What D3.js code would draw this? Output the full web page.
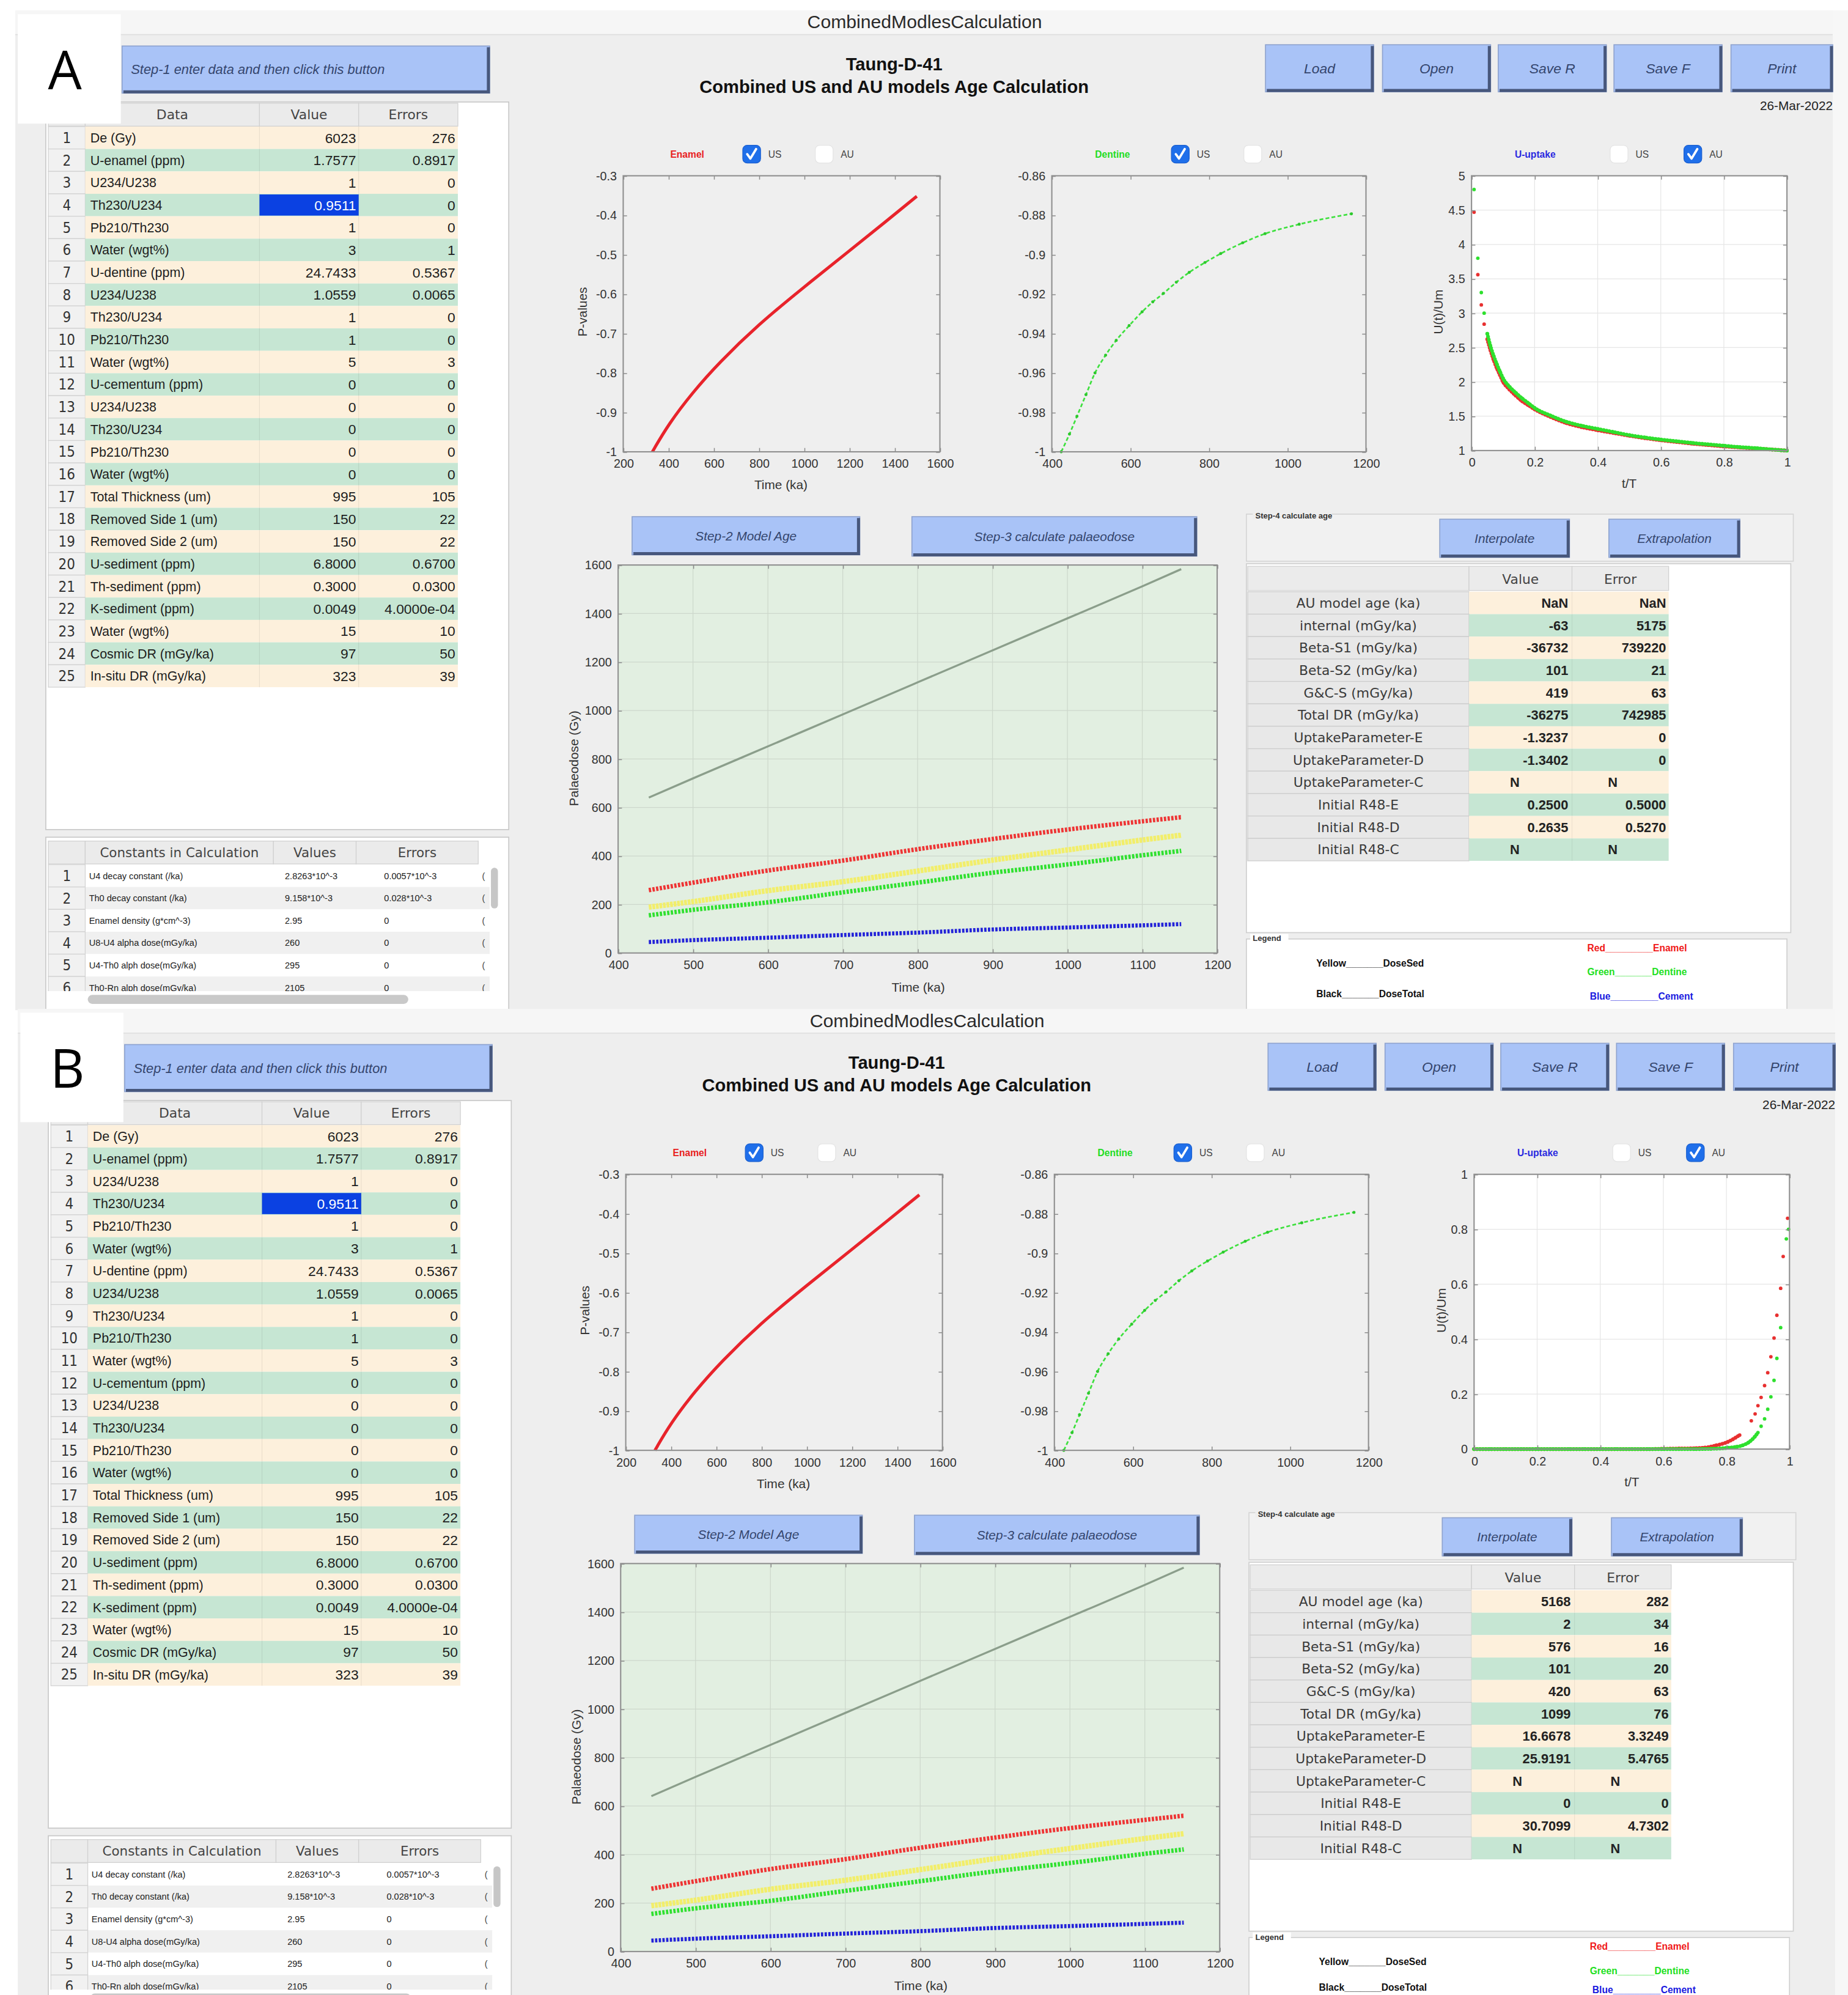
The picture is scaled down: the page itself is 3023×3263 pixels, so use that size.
<!DOCTYPE html>
<html>
<head>
<meta charset="utf-8">
<script src="https://cdn.jsdelivr.net/npm/d3@7"></script>
<style>
  body { margin: 0; background: #fff; }
  svg { display: block; font-family: "Liberation Sans", Arial, sans-serif; }
</style>
</head>
<body>
<script>
// ---- data ----
const inputLabels = ['De (Gy)', 'U-enamel (ppm)', 'U234/U238', 'Th230/U234', 'Pb210/Th230', 'Water (wgt%)',
  'U-dentine (ppm)', 'U234/U238', 'Th230/U234', 'Pb210/Th230', 'Water (wgt%)',
  'U-cementum (ppm)', 'U234/U238', 'Th230/U234', 'Pb210/Th230', 'Water (wgt%)',
  'Total Thickness (um)', 'Removed Side 1 (um)', 'Removed Side 2 (um)', 'U-sediment (ppm)',
  'Th-sediment (ppm)', 'K-sediment (ppm)', 'Water (wgt%)', 'Cosmic DR (mGy/ka)', 'In-situ DR (mGy/ka)'];
const inputValues = ['6023', '1.7577', '1', '0.9511', '1', '3', '24.7433', '1.0559', '1', '1', '5',
  '0', '0', '0', '0', '0', '995', '150', '150', '6.8000', '0.3000', '0.0049', '15', '97', '323'];
const inputErrors = ['276', '0.8917', '0', '0', '0', '1', '0.5367', '0.0065', '0', '0', '3',
  '0', '0', '0', '0', '0', '105', '22', '22', '0.6700', '0.0300', '4.0000e-04', '10', '50', '39'];

const constLabels = ['U4 decay constant  (/ka)', 'Th0 decay constant (/ka)', 'Enamel density (g*cm^-3)',
  'U8-U4 alpha dose(mGy/ka)', 'U4-Th0 alph dose(mGy/ka)', 'Th0-Rn alph dose(mGy/ka)'];
const constValues = ['2.8263*10^-3', '9.158*10^-3', '2.95', '260', '295', '2105'];
const constErrors = ['0.0057*10^-3', '0.028*10^-3', '0', '0', '0', '0'];

const resultLabels = ['AU model age (ka)', 'internal (mGy/ka)', 'Beta-S1 (mGy/ka)', 'Beta-S2 (mGy/ka)',
  'G&C-S (mGy/ka)', 'Total DR (mGy/ka)', 'UptakeParameter-E', 'UptakeParameter-D', 'UptakeParameter-C',
  'Initial R48-E', 'Initial R48-D', 'Initial R48-C'];
const resultValuesA = ['NaN', '-63', '-36732', '101', '419', '-36275', '-1.3237', '-1.3402', 'N', '0.2500', '0.2635', 'N'];
const resultErrorsA = ['NaN', '5175', '739220', '21', '63', '742985', '0', '0', 'N', '0.5000', '0.5270', 'N'];
const resultValuesB = ['5168', '2', '576', '101', '420', '1099', '16.6678', '25.9191', 'N', '0', '30.7099', 'N'];
const resultErrorsB = ['282', '34', '16', '20', '63', '76', '3.3249', '5.4765', 'N', '0', '4.7302', 'N'];

// enamel / dentine p-value curves
const enamelTime = [329, 400, 506, 622, 796, 993, 1201, 1363, 1498];
const enamelP = [-1, -0.93, -0.85, -0.775, -0.678, -0.585, -0.49, -0.415, -0.352];
const dentineTime = [424, 445, 464, 487, 510, 537, 564, 597, 630, 657, 684, 717, 750, 790, 830, 886, 943, 1030, 1163];
const dentineP = [-1, -0.991, -0.982, -0.971, -0.960, -0.951, -0.9435, -0.936, -0.929, -0.924, -0.9197,
  -0.914, -0.909, -0.904, -0.8995, -0.894, -0.8894, -0.8846, -0.8793];

// U-uptake, panel A
const uptakeTimeA = [0.008, 0.02, 0.031, 0.04, 0.05, 0.06, 0.07, 0.08, 0.09, 0.1, 0.12, 0.14, 0.16, 0.18, 0.2,
  0.25, 0.3, 0.35, 0.4, 0.45, 0.5, 0.55, 0.6, 0.65, 0.7, 0.75, 0.8, 0.85, 0.9, 0.95, 1];
const uptakeRedA = [4.47, 3.56, 3.12, 2.84, 2.62, 2.46, 2.32, 2.2, 2.1, 2.0, 1.89, 1.8, 1.72, 1.66, 1.6,
  1.49, 1.4, 1.34, 1.295, 1.255, 1.215, 1.18, 1.15, 1.125, 1.1, 1.08, 1.06, 1.045, 1.03, 1.015, 1.0];
const uptakeGreenA = [4.8, 3.8, 3.3, 3.0, 2.7, 2.52, 2.38, 2.26, 2.15, 2.05, 1.93, 1.84, 1.76, 1.69, 1.62,
  1.51, 1.42, 1.36, 1.315, 1.27, 1.225, 1.19, 1.16, 1.135, 1.11, 1.09, 1.07, 1.05, 1.035, 1.015, 1.0];

// U-uptake, panel B
const uptakeTimeRedB = [0, 0.05, 0.1, 0.15, 0.2, 0.25, 0.3, 0.35, 0.4, 0.45, 0.5, 0.55, 0.6, 0.65, 0.7, 0.73,
  0.766, 0.804, 0.842, 0.879, 0.891, 0.9, 0.91, 0.921, 0.931, 0.941, 0.951, 0.96, 0.972, 0.98, 0.994];
const uptakeRedB = [0, 0, 0, 0, 0, 0, 0, 0, 0, 0, 0, 0, 0.001, 0.002, 0.003, 0.005,
  0.013, 0.026, 0.051, 0.103, 0.128, 0.158, 0.188, 0.231, 0.278, 0.336, 0.404, 0.487, 0.585, 0.701, 0.84];
const uptakeTimeGreenB = [0, 0.05, 0.1, 0.15, 0.2, 0.25, 0.3, 0.35, 0.4, 0.45, 0.5, 0.55, 0.6, 0.65, 0.7,
  0.75, 0.8, 0.83, 0.85, 0.87, 0.89, 0.9, 0.91, 0.921, 0.931, 0.941, 0.951, 0.96, 0.972, 0.99, 0.997];
const uptakeGreenB = [0, 0, 0, 0, 0, 0, 0, 0, 0, 0, 0, 0, 0, 0, 0,
  0.001, 0.004, 0.008, 0.013, 0.024, 0.045, 0.06, 0.083, 0.11, 0.145, 0.19, 0.25, 0.33, 0.442, 0.765, 0.8];

// palaeodose vs time
const doseTime = [441, 500, 600, 700, 800, 900, 1000, 1100, 1152];
const doseTotal = [641, 720, 852, 984, 1116, 1248, 1380, 1512, 1583];
const doseEnamel = [259, 290, 340, 381, 428, 470, 509, 543, 560];
const doseSed = [189, 212, 257, 294, 338, 383, 425, 466, 486];
const doseDentine = [155, 178, 209, 250, 290, 331, 365, 403, 421];
const doseCement = [45, 53, 63, 74, 84, 97, 105, 114, 119];

// ---- canvas (drawn in 1453x1568 units, scaled up to the window) ----
const svg = d3.select('body').append('svg')
  .attr('width', 3023).attr('height', 3263)
  .attr('viewBox', '0 0 1453 1568');

const CREAM = '#fdf0dc';
const MINT = '#c6e6d3';
const UI_FONT = 'DejaVu Sans, sans-serif';

function button(g, x, y, w, h, label, size, left) {
  g.append('rect').attr('x', x).attr('y', y).attr('width', w).attr('height', h)
    .attr('fill', '#a9c3f7').attr('stroke', '#8ea3cf').attr('stroke-width', 0.8);
  g.append('path').attr('d', `M${x + 1},${y + h - 1} H${x + w - 1} V${y + 1}`)
    .attr('fill', 'none').attr('stroke', '#47577c').attr('stroke-width', 2.4);
  g.append('text')
    .attr('x', left ? x + 7 : x + w / 2).attr('y', y + h / 2).attr('dy', '0.35em')
    .attr('text-anchor', left ? 'start' : 'middle')
    .attr('font-style', 'italic').attr('font-size', size || 10)
    .attr('fill', '#34456d').text(label);
}

function checkbox(g, x, y, checked) {
  g.append('rect').attr('x', x).attr('y', y - 7).attr('width', 14).attr('height', 14).attr('rx', 3.5)
    .attr('fill', checked ? '#1f6fea' : '#ffffff')
    .attr('stroke', checked ? '#1a5fd0' : '#e4e4e4').attr('stroke-width', 0.6);
  if (checked) {
    g.append('path').attr('d', `M${x + 3.5},${y} L${x + 6},${y + 3.5} L${x + 10.5},${y - 4}`)
      .attr('fill', 'none').attr('stroke', '#fff').attr('stroke-width', 1.8)
      .attr('stroke-linecap', 'round').attr('stroke-linejoin', 'round');
  }
}

function plotHeader(g, x, y, label, color, us, au, boxUS, boxAU) {
  g.append('text').attr('x', x).attr('y', y).attr('dy', '0.35em')
    .attr('font-size', 7.5).attr('font-weight', 'bold').attr('fill', color).text(label);
  checkbox(g, boxUS, y, us);
  g.append('text').attr('x', boxUS + 20).attr('y', y).attr('dy', '0.35em')
    .attr('font-size', 7.5).attr('fill', '#444').text('US');
  checkbox(g, boxAU, y, au);
  g.append('text').attr('x', boxAU + 20).attr('y', y).attr('dy', '0.35em')
    .attr('font-size', 7.5).attr('fill', '#444').text('AU');
}

function styleAxis(sel) {
  sel.select('.domain').remove();
  sel.selectAll('.tick line').attr('stroke', '#8a8a8a').attr('stroke-width', 0.7);
  sel.selectAll('.tick text').attr('fill', '#333').attr('font-size', 9.5)
    .attr('font-family', 'Liberation Sans, Arial, sans-serif');
}

function axesFrame(g, x, y, xt, yt, bg, gridColor) {
  const [x0, x1] = x.range();
  const [y0, y1] = y.range();
  g.append('rect').attr('x', x0).attr('y', y1).attr('width', x1 - x0).attr('height', y0 - y1).attr('fill', bg);
  if (gridColor) {
    g.append('g').selectAll('line').data(xt.slice(1, -1)).join('line')
      .attr('x1', d => x(d)).attr('x2', d => x(d)).attr('y1', y1).attr('y2', y0)
      .attr('stroke', gridColor).attr('stroke-width', 0.6);
    g.append('g').selectAll('line').data(yt.slice(1, -1)).join('line')
      .attr('y1', d => y(d)).attr('y2', d => y(d)).attr('x1', x0).attr('x2', x1)
      .attr('stroke', gridColor).attr('stroke-width', 0.6);
  }
}

function axesTicks(g, x, y, xt, yt) {
  const [x0, x1] = x.range();
  const [y0, y1] = y.range();
  g.append('g').attr('transform', `translate(0,${y0})`)
    .call(d3.axisBottom(x).tickValues(xt).tickSize(-3).tickPadding(6).tickFormat(String)).call(styleAxis);
  g.append('g').attr('transform', `translate(0,${y1})`)
    .call(d3.axisTop(x).tickValues(xt).tickSize(-3).tickFormat('')).call(styleAxis);
  g.append('g').attr('transform', `translate(${x0},0)`)
    .call(d3.axisLeft(y).tickValues(yt).tickSize(-3).tickPadding(5).tickFormat(String)).call(styleAxis);
  g.append('g').attr('transform', `translate(${x1},0)`)
    .call(d3.axisRight(y).tickValues(yt).tickSize(-3).tickFormat('')).call(styleAxis);
  g.append('rect').attr('x', x0).attr('y', y1).attr('width', x1 - x0).attr('height', y0 - y1)
    .attr('fill', 'none').attr('stroke', '#8f8f8f').attr('stroke-width', 1);
}

function axisLabel(g, x, y, text, rotate) {
  g.append('text').attr('x', x).attr('y', y).attr('dy', '0.35em')
    .attr('text-anchor', 'middle').attr('font-size', 10).attr('fill', '#333')
    .attr('transform', rotate ? `rotate(-90,${x},${y})` : null).text(text);
}

function inputTable(g) {
  g.append('rect').attr('x', 36).attr('y', 80).attr('width', 364).attr('height', 572)
    .attr('fill', '#fff').attr('stroke', '#c8c8c8').attr('stroke-width', 0.8);
  [['', 38, 29], ['Data', 67, 137], ['Value', 204, 78], ['Errors', 282, 78]].forEach(([t, x, w]) => {
    g.append('rect').attr('x', x).attr('y', 81).attr('width', w).attr('height', 18)
      .attr('fill', '#ebebeb').attr('stroke', '#d0d0d0').attr('stroke-width', 0.6);
    g.append('text').attr('x', x + w / 2).attr('y', 90).attr('dy', '0.35em').attr('text-anchor', 'middle')
      .attr('font-family', UI_FONT).attr('font-size', 10.5).attr('fill', '#444').text(t);
  });
  const rowH = 17.63, row0 = 99.3;
  inputLabels.forEach((lab, i) => {
    const y = row0 + i * rowH, cy = y + rowH / 2;
    g.append('rect').attr('x', 38).attr('y', y).attr('width', 29).attr('height', rowH)
      .attr('fill', '#f1f1f1').attr('stroke', '#d2d2d2').attr('stroke-width', 0.6);
    g.append('text').attr('x', 52.5).attr('y', cy).attr('dy', '0.36em').attr('text-anchor', 'middle')
      .attr('font-family', 'DejaVu Sans Condensed, DejaVu Sans, sans-serif')
      .attr('font-size', 11.5).attr('fill', '#333').text(i + 1);
    g.append('rect').attr('x', 67).attr('y', y).attr('width', 293).attr('height', rowH)
      .attr('fill', i % 2 === 0 ? CREAM : MINT);
    if (i === 3) {
      g.append('rect').attr('x', 204).attr('y', y + 0.5).attr('width', 78).attr('height', rowH - 1).attr('fill', '#0b41e2');
    }
    [204, 282].forEach(cx => g.append('line').attr('x1', cx).attr('x2', cx).attr('y1', y).attr('y2', y + rowH)
      .attr('stroke', 'rgba(0,0,0,0.07)').attr('stroke-width', 0.6));
    g.append('text').attr('x', 71).attr('y', cy).attr('dy', '0.36em')
      .attr('font-size', 10.3).attr('fill', '#1e1e1e').text(lab);
    g.append('text').attr('x', 280).attr('y', cy).attr('dy', '0.36em').attr('text-anchor', 'end')
      .attr('font-size', 11).attr('fill', i === 3 ? '#fff' : '#1e1e1e').text(inputValues[i]);
    g.append('text').attr('x', 358).attr('y', cy).attr('dy', '0.36em').attr('text-anchor', 'end')
      .attr('font-size', 11).attr('fill', '#1e1e1e').text(inputErrors[i]);
  });
}

function constTable(g, clipId) {
  g.append('rect').attr('x', 36).attr('y', 658).attr('width', 364).attr('height', 150)
    .attr('fill', '#fff').attr('stroke', '#c8c8c8').attr('stroke-width', 0.8);
  [['', 38, 29], ['Constants in Calculation', 67, 148], ['Values', 215, 65], ['Errors', 280, 96]].forEach(([t, x, w]) => {
    g.append('rect').attr('x', x).attr('y', 661).attr('width', w).attr('height', 18)
      .attr('fill', '#ebebeb').attr('stroke', '#d0d0d0').attr('stroke-width', 0.6);
    g.append('text').attr('x', x + w / 2).attr('y', 670).attr('dy', '0.35em').attr('text-anchor', 'middle')
      .attr('font-family', UI_FONT).attr('font-size', 10.3).attr('fill', '#444').text(t);
  });
  g.append('clipPath').attr('id', clipId).append('rect')
    .attr('x', 36).attr('y', 679).attr('width', 364).attr('height', 100);
  const body = g.append('g').attr('clip-path', `url(#${clipId})`);
  const rowH = 17.6, row0 = 679.5;
  constLabels.forEach((lab, i) => {
    const y = row0 + i * rowH, cy = y + rowH / 2;
    body.append('rect').attr('x', 67).attr('y', y).attr('width', 318).attr('height', rowH)
      .attr('fill', i % 2 === 1 ? '#f0f0f0' : '#ffffff');
    body.append('rect').attr('x', 38).attr('y', y).attr('width', 29).attr('height', rowH)
      .attr('fill', '#f1f1f1').attr('stroke', '#d2d2d2').attr('stroke-width', 0.6);
    body.append('text').attr('x', 52.5).attr('y', cy).attr('dy', '0.36em').attr('text-anchor', 'middle')
      .attr('font-family', 'DejaVu Sans Condensed, DejaVu Sans, sans-serif')
      .attr('font-size', 11.5).attr('fill', '#333').text(i + 1);
    body.append('text').attr('x', 70).attr('y', cy).attr('dy', '0.36em')
      .attr('font-size', 7).attr('fill', '#222').text(lab);
    body.append('text').attr('x', 224).attr('y', cy).attr('dy', '0.36em')
      .attr('font-size', 7).attr('fill', '#222').text(constValues[i]);
    body.append('text').attr('x', 302).attr('y', cy).attr('dy', '0.36em')
      .attr('font-size', 7).attr('fill', '#222').text(constErrors[i]);
    body.append('text').attr('x', 379).attr('y', cy).attr('dy', '0.36em')
      .attr('font-size', 7).attr('fill', '#444').text('(');
  });
  g.append('rect').attr('x', 386).attr('y', 682).attr('width', 5.5).attr('height', 32).attr('rx', 2.7).attr('fill', '#c6c6c6');
  g.append('rect').attr('x', 69).attr('y', 782).attr('width', 252).attr('height', 7).attr('rx', 3.5).attr('fill', '#c9c9c9');
}

function resultsBlock(g, values, errors, legendLift) {
  g.append('rect').attr('x', 980).attr('y', 404).attr('width', 430).attr('height', 37)
    .attr('fill', '#f1f1f1').attr('stroke', '#d5d5d5').attr('stroke-width', 0.8);
  g.append('rect').attr('x', 985).attr('y', 401).attr('width', 62).attr('height', 7).attr('fill', '#eeeeee');
  g.append('text').attr('x', 987).attr('y', 405).attr('dy', '0.35em').attr('font-size', 6.3)
    .attr('font-weight', 'bold').attr('fill', '#333').text('Step-4 calculate age');
  button(g, 1132, 408, 102, 30, 'Interpolate', 10);
  button(g, 1265, 408, 103, 30, 'Extrapolation', 10);

  g.append('rect').attr('x', 980).attr('y', 443).attr('width', 428).attr('height', 290)
    .attr('fill', '#fff').attr('stroke', '#cfcfcf').attr('stroke-width', 0.8);
  [['', 981, 174], ['Value', 1155, 81], ['Error', 1236, 76]].forEach(([t, x, w]) => {
    g.append('rect').attr('x', x).attr('y', 445).attr('width', w).attr('height', 19)
      .attr('fill', '#ebebeb').attr('stroke', '#d0d0d0').attr('stroke-width', 0.6);
    g.append('text').attr('x', x + w / 2).attr('y', 455).attr('dy', '0.35em').attr('text-anchor', 'middle')
      .attr('font-family', UI_FONT).attr('font-size', 10.5).attr('fill', '#444').text(t);
  });
  const rowH = 17.63, row0 = 465;
  resultLabels.forEach((lab, i) => {
    const y = row0 + i * rowH, cy = y + rowH / 2;
    g.append('rect').attr('x', 981).attr('y', y).attr('width', 174).attr('height', rowH)
      .attr('fill', '#e8e8e8').attr('stroke', '#cccccc').attr('stroke-width', 0.6);
    g.append('text').attr('x', 1068).attr('y', cy).attr('dy', '0.36em').attr('text-anchor', 'middle')
      .attr('font-family', UI_FONT).attr('font-size', 10.5).attr('fill', '#3a3a3a').text(lab);
    g.append('rect').attr('x', 1155).attr('y', y).attr('width', 157).attr('height', rowH)
      .attr('fill', i % 2 === 0 ? CREAM : MINT);
    g.append('line').attr('x1', 1236).attr('x2', 1236).attr('y1', y).attr('y2', y + rowH)
      .attr('stroke', 'rgba(0,0,0,0.06)').attr('stroke-width', 0.6);
    [[values[i], 1233, 1191], [errors[i], 1310, 1268]].forEach(([v, xr, xn]) => {
      const isN = v === 'N';
      g.append('text').attr('x', isN ? xn : xr).attr('y', cy).attr('dy', '0.36em')
        .attr('text-anchor', isN ? 'middle' : 'end')
        .attr('font-size', 10.5).attr('font-weight', 'bold').attr('fill', '#222').text(v);
    });
  });

  // legend box
  g.append('rect').attr('x', 980).attr('y', 738).attr('width', 425).attr('height', 70)
    .attr('fill', '#fff').attr('stroke', '#cfcfcf').attr('stroke-width', 0.8);
  g.append('rect').attr('x', 983).attr('y', 734).attr('width', 30).attr('height', 7).attr('fill', '#fff');
  g.append('text').attr('x', 985).attr('y', 737.5).attr('dy', '0.35em').attr('font-size', 6.3)
    .attr('font-weight', 'bold').attr('fill', '#333').text('Legend');
  const legendItems = [
    ['Yellow_______DoseSed', 1035, 757, '#111'],
    ['Black_______DoseTotal', 1035, 781 - legendLift, '#111'],
    ['Red_________Enamel', 1248, 745, '#f01818'],
    ['Green_______Dentine', 1248, 764, '#22e022'],
    ['Blue_________Cement', 1250, 783 - legendLift, '#1a1ae0']
  ];
  legendItems.forEach(([t, x, y, c]) => {
    g.append('text').attr('x', x).attr('y', y).attr('dy', '0.35em').attr('font-size', 7.5)
      .attr('font-weight', 'bold').attr('fill', c).text(t);
  });
}

function uptakePlot(g, uptake) {
  const x = d3.scaleLinear().domain([0, 1]).range([1157, 1405]);
  const y = d3.scaleLinear().domain(uptake.domain).range([354, 138]);
  const xt = [0, 0.2, 0.4, 0.6, 0.8, 1];
  axesFrame(g, x, y, xt, uptake.ticks, '#ffffff', '#e6e6e6');
  const line = d3.line().x(d => x(d[0])).y(d => y(d[1])).curve(d3.curveMonotoneX);
  uptake.series.forEach(s => {
    const pts = s.t.map((t, i) => [t, s.u[i]]);
    // dense marker band only where the markers merge in the original
    g.append('path').attr('d', line(pts.slice(s.band[0], s.band[1])))
      .attr('fill', 'none').attr('stroke', s.color).attr('stroke-width', 3)
      .attr('stroke-linecap', 'round').attr('stroke-dasharray', '0.1,2.2');
    g.append('g').selectAll('circle').data(pts).join('circle')
      .attr('cx', d => x(d[0])).attr('cy', d => y(d[1])).attr('r', 1.4).attr('fill', s.color);
  });
  axesTicks(g, x, y, xt, uptake.ticks);
  axisLabel(g, 1131, 245, 'U(t)/Um', true);
  axisLabel(g, 1281, 380, 't/T', false);
}

function drawPanel(dx, dy, letter, values, errors, uptake, id, legendLift) {
  const g = svg.append('g').attr('transform', `translate(${dx},${dy})`);

  // window
  g.append('rect').attr('x', 12).attr('y', 8).attr('width', 1429).attr('height', 786).attr('fill', '#eeeeee');
  g.append('rect').attr('x', 12).attr('y', 8).attr('width', 1429).attr('height', 19).attr('fill', '#f6f6f6');
  g.append('line').attr('x1', 12).attr('x2', 1441).attr('y1', 27).attr('y2', 27).attr('stroke', '#dedede').attr('stroke-width', 0.8);
  g.append('rect').attr('x', 1441).attr('y', 8).attr('width', 12).attr('height', 786).attr('fill', '#f7f7f7');
  g.append('text').attr('x', 727).attr('y', 17).attr('dy', '0.35em').attr('text-anchor', 'middle')
    .attr('font-size', 14.5).attr('fill', '#2a2a2a').text('CombinedModlesCalculation');

  // header
  button(g, 96, 36, 289, 37, 'Step-1 enter data and then click this button', 10.5, true);
  g.append('text').attr('x', 703).attr('y', 50).attr('dy', '0.35em').attr('text-anchor', 'middle')
    .attr('font-size', 14).attr('font-weight', 'bold').attr('fill', '#111').text('Taung-D-41');
  g.append('text').attr('x', 703).attr('y', 68).attr('dy', '0.35em').attr('text-anchor', 'middle')
    .attr('font-size', 14).attr('font-weight', 'bold').attr('fill', '#111').text('Combined US and AU models Age Calculation');
  [['Load', 995, 85], ['Open', 1087, 85], ['Save R', 1178, 85], ['Save F', 1269, 85], ['Print', 1361, 80]]
    .forEach(([t, x, w]) => button(g, x, 35, w, 37, t, 11));
  g.append('text').attr('x', 1441).attr('y', 83).attr('dy', '0.35em').attr('text-anchor', 'end')
    .attr('font-size', 10).attr('fill', '#222').text('26-Mar-2022');

  // tables on the left
  inputTable(g);
  constTable(g, 'clip-' + id);

  // panel letter
  g.append('rect').attr('x', 14).attr('y', 11).attr('width', 81).attr('height', 86).attr('fill', '#ffffff');
  g.append('text').attr('x', 51).attr('y', 70).attr('text-anchor', 'middle')
    .attr('font-family', 'Open Sans, DejaVu Sans, sans-serif').attr('font-size', 42).attr('fill', '#000').text(letter);

  // enamel plot
  plotHeader(g, 527, 121, 'Enamel', '#e82020', true, false, 584, 641);
  const ex = d3.scaleLinear().domain([200, 1600]).range([490, 739]);
  const ey = d3.scaleLinear().domain([-1, -0.3]).range([355, 138]);
  const ext = [200, 400, 600, 800, 1000, 1200, 1400, 1600];
  const eyt = [-1, -0.9, -0.8, -0.7, -0.6, -0.5, -0.4, -0.3];
  axesFrame(g, ex, ey, ext, eyt, '#efefef', null);
  g.append('path')
    .attr('d', d3.line().x(d => ex(d)).y((d, i) => ey(enamelP[i])).curve(d3.curveBasis)(enamelTime))
    .attr('fill', 'none').attr('stroke', '#e8232b').attr('stroke-width', 2.4);
  axesTicks(g, ex, ey, ext, eyt);
  axisLabel(g, 458, 245, 'P-values', true);
  axisLabel(g, 614, 381, 'Time (ka)', false);

  // dentine plot
  plotHeader(g, 861, 121, 'Dentine', '#22dd22', true, false, 921, 978);
  const dx2 = d3.scaleLinear().domain([400, 1200]).range([827, 1074]);
  const dy2 = d3.scaleLinear().domain([-1, -0.86]).range([355, 138]);
  const dxt = [400, 600, 800, 1000, 1200];
  const dyt = [-1, -0.98, -0.96, -0.94, -0.92, -0.9, -0.88, -0.86];
  axesFrame(g, dx2, dy2, dxt, dyt, '#efefef', null);
  g.append('path')
    .attr('d', d3.line().x(d => dx2(d)).y((d, i) => dy2(dentineP[i])).curve(d3.curveMonotoneX)(dentineTime))
    .attr('fill', 'none').attr('stroke', '#3ee03e').attr('stroke-width', 1.3).attr('stroke-dasharray', '3,1.8');
  g.append('g').selectAll('circle').data(dentineTime).join('circle')
    .attr('cx', d => dx2(d)).attr('cy', (d, i) => dy2(dentineP[i])).attr('r', 1.2).attr('fill', '#2cc82c');
  axesTicks(g, dx2, dy2, dxt, dyt);

  // uptake plot
  plotHeader(g, 1191, 121, 'U-uptake', '#2a2ae0', false, true, 1266, 1324);
  uptakePlot(g, uptake);

  // step 2 / step 3 and palaeodose plot
  button(g, 497, 406, 179, 30, 'Step-2 Model Age', 10);
  button(g, 717, 406, 224, 31, 'Step-3 calculate palaeodose', 10);
  const px = d3.scaleLinear().domain([400, 1200]).range([486, 957]);
  const py = d3.scaleLinear().domain([0, 1600]).range([749, 444]);
  const pxt = [400, 500, 600, 700, 800, 900, 1000, 1100, 1200];
  const pyt = [0, 200, 400, 600, 800, 1000, 1200, 1400, 1600];
  axesFrame(g, px, py, pxt, pyt, '#e2efe1', '#cdd8cc');
  const doseLine = vals => d3.line().x(d => px(d)).y((d, i) => py(vals[i])).curve(d3.curveMonotoneX)(doseTime);
  g.append('path').attr('d', doseLine(doseTotal)).attr('fill', 'none')
    .attr('stroke', '#8b9e8b').attr('stroke-width', 1.6);
  [[doseSed, '#f2ee6a', 4.2, '2.2,0.6'], [doseEnamel, '#ee3434', 3.5, '1.8,1.1'],
   [doseDentine, '#2fe02f', 3.5, '1.8,1.1'], [doseCement, '#2222d8', 3.2, '1.8,1.1']]
    .forEach(([vals, c, w, dash]) => {
      g.append('path').attr('d', doseLine(vals)).attr('fill', 'none')
        .attr('stroke', c).attr('stroke-width', w).attr('stroke-dasharray', dash);
    });
  axesTicks(g, px, py, pxt, pyt);
  axisLabel(g, 451, 596, 'Palaeodose (Gy)', true);
  axisLabel(g, 722, 776, 'Time (ka)', false);

  // results
  resultsBlock(g, values, errors, legendLift);
}

drawPanel(0, 0, 'A', resultValuesA, resultErrorsA, {
  domain: [1, 5], ticks: [1, 1.5, 2, 2.5, 3, 3.5, 4, 4.5, 5],
  series: [
    { t: uptakeTimeA, u: uptakeRedA, color: '#e83030', band: [4, uptakeTimeA.length] },
    { t: uptakeTimeA, u: uptakeGreenA, color: '#2ee02e', band: [4, uptakeTimeA.length] }
  ]
}, 'a', 0);

drawPanel(2, 785, 'B', resultValuesB, resultErrorsB, {
  domain: [0, 1], ticks: [0, 0.2, 0.4, 0.6, 0.8, 1],
  series: [
    { t: uptakeTimeRedB, u: uptakeRedB, color: '#e83030', band: [0, 19] },
    { t: uptakeTimeGreenB, u: uptakeGreenB, color: '#2ee02e', band: [0, 22] }
  ]
}, 'b', 4);
</script>
</body>
</html>
